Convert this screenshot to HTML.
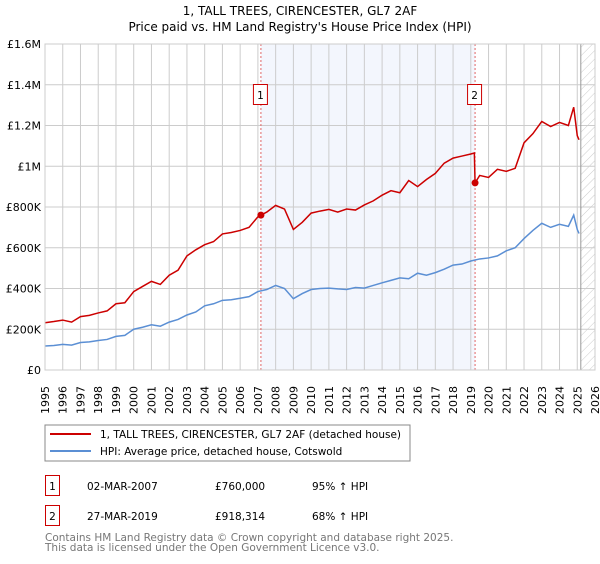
<!DOCTYPE html>
<html><head><meta charset="utf-8"><style>
body{margin:0;background:#fff;font-family:"DejaVu Sans","Liberation Sans",sans-serif;}
svg text{font-family:"DejaVu Sans","Liberation Sans",sans-serif;}
</style></head><body>
<svg id="chart" width="600" height="560" xmlns="http://www.w3.org/2000/svg">
<defs><pattern id="hatch" width="6" height="6" patternUnits="userSpaceOnUse" patternTransform="rotate(45)"><line x1="0" y1="0" x2="0" y2="6" stroke="#ccc" stroke-width="1"/></pattern></defs>
<text x="300" y="15" text-anchor="middle" font-size="12">1, TALL TREES, CIRENCESTER, GL7 2AF</text>
<text x="300" y="31" text-anchor="middle" font-size="12">Price paid vs. HM Land Registry's House Price Index (HPI)</text>
<g id="plot"></g>
<rect x="45" y="425" width="365" height="36" fill="#fff" stroke="#888"/>
<line x1="50" y1="434" x2="91" y2="434" stroke="#cc0000" stroke-width="2"/>
<text x="100" y="438" font-size="10.5">1, TALL TREES, CIRENCESTER, GL7 2AF (detached house)</text>
<line x1="50" y1="451" x2="91" y2="451" stroke="#5b8fd4" stroke-width="2"/>
<text x="100" y="455" font-size="10.5">HPI: Average price, detached house, Cotswold</text>
<g>
<rect x="45.5" y="475.5" width="14" height="20" fill="#fff" stroke="#cc0000"/>
<text x="52.5" y="490" text-anchor="middle" font-size="10.5">1</text>
<text x="87" y="490" font-size="10.5">02-MAR-2007</text>
<text x="215" y="490" font-size="10.5">£760,000</text>
<text x="312" y="490" font-size="10.5">95% ↑ HPI</text></g>
<g>
<rect x="45.5" y="505.5" width="14" height="20" fill="#fff" stroke="#cc0000"/>
<text x="52.5" y="520" text-anchor="middle" font-size="10.5">2</text>
<text x="87" y="520" font-size="10.5">27-MAR-2019</text>
<text x="215" y="520" font-size="10.5">£918,314</text>
<text x="312" y="520" font-size="10.5">68% ↑ HPI</text></g>
<text x="45" y="541" font-size="10.5" fill="#777">Contains HM Land Registry data © Crown copyright and database right 2025.</text>
<text x="45" y="551" font-size="10.5" fill="#777">This data is licensed under the Open Government Licence v3.0.</text>
</svg>
<script>
const yTicks=[0,200000,400000,600000,800000,1000000,1200000,1400000,1600000];
const yTickLabels=["£0","£200K","£400K","£600K","£800K","£1M","£1.2M","£1.4M","£1.6M"];
const xYears=[1995,1996,1997,1998,1999,2000,2001,2002,2003,2004,2005,2006,2007,2008,2009,2010,2011,2012,2013,2014,2015,2016,2017,2018,2019,2020,2021,2022,2023,2024,2025,2026];
const hpiDates=[1995,1995.5,1996,1996.5,1997,1997.5,1998,1998.5,1999,1999.5,2000,2000.5,2001,2001.5,2002,2002.5,2003,2003.5,2004,2004.5,2005,2005.5,2006,2006.5,2007,2007.5,2008,2008.5,2009,2009.5,2010,2010.5,2011,2011.5,2012,2012.5,2013,2013.5,2014,2014.5,2015,2015.5,2016,2016.5,2017,2017.5,2018,2018.5,2019,2019.5,2020,2020.5,2021,2021.5,2022,2022.5,2023,2023.5,2024,2024.5,2024.8,2025,2025.1];
const hpiValues=[118000,120000,126000,122000,135000,138000,145000,150000,165000,170000,200000,210000,222000,215000,235000,248000,270000,285000,315000,325000,342000,345000,352000,360000,385000,395000,415000,400000,350000,375000,395000,400000,402000,398000,395000,405000,402000,415000,428000,440000,452000,448000,475000,465000,478000,495000,515000,520000,535000,545000,550000,560000,585000,600000,645000,685000,720000,700000,715000,705000,760000,690000,670000];
const priceDates=[1995,1995.5,1996,1996.5,1997,1997.5,1998,1998.5,1999,1999.5,2000,2000.5,2001,2001.5,2002,2002.5,2003,2003.5,2004,2004.5,2005,2005.5,2006,2006.5,2007,2007.17,2007.5,2008,2008.5,2009,2009.5,2010,2010.5,2011,2011.5,2012,2012.5,2013,2013.5,2014,2014.5,2015,2015.5,2016,2016.5,2017,2017.5,2018,2018.5,2019,2019.2,2019.24,2019.5,2020,2020.5,2021,2021.5,2022,2022.5,2023,2023.5,2024,2024.5,2024.8,2025,2025.1];
const priceValues=[232000,238000,245000,235000,262000,268000,280000,290000,325000,330000,385000,410000,435000,420000,465000,490000,560000,590000,615000,630000,668000,675000,685000,700000,752000,760000,775000,808000,790000,690000,725000,770000,780000,788000,775000,790000,785000,810000,830000,858000,880000,870000,930000,900000,935000,965000,1015000,1040000,1050000,1060000,1065000,918314,955000,945000,985000,975000,990000,1115000,1160000,1220000,1195000,1215000,1200000,1290000,1150000,1130000];
const sales=[{d:2007.17,v:760000,n:"1"},{d:2019.24,v:918314,n:"2"}];
const X0=45,X1=595,Y0=370,Y1=44;
const xs=d=>X0+(d-1995)/(2026-1995)*(X1-X0);
const ys=v=>Y0-(v/1600000)*(Y0-Y1);
const g=document.getElementById('plot');const NS="http://www.w3.org/2000/svg";
function mk(t,a){const e=document.createElementNS(NS,t);for(const k in a)e.setAttribute(k,a[k]);g.appendChild(e);return e;}
let e;
e=mk('rect',{x:xs(2007.17),y:Y1,width:xs(2019.24)-xs(2007.17),height:Y0-Y1,fill:'#f3f6fd'});


e=mk('rect',{x:xs(2025.2),y:Y1,width:X1-xs(2025.2),height:Y0-Y1,fill:'url(#hatch)'});


xYears.forEach(y=>{e=mk('line',{x1:xs(y),x2:xs(y),y1:Y1,y2:Y0,stroke:'#ccc','stroke-width':1});


e=mk('text',{transform:`translate(${xs(y)+4},${Y0+44}) rotate(-90)`,'font-size':11});e.textContent=y;

});
yTicks.forEach((v,i)=>{e=mk('line',{x1:X0,x2:X1,y1:ys(v),y2:ys(v),stroke:'#ccc','stroke-width':1});


e=mk('text',{x:X0-4,y:ys(v)+4,'text-anchor':'end','font-size':11});e.textContent=yTickLabels[i];

});
e=mk('line',{x1:xs(2025.2),x2:xs(2025.2),y1:Y1,y2:Y0,stroke:'#999','stroke-width':1});


sales.forEach(s=>{e=mk('line',{x1:xs(s.d),x2:xs(s.d),y1:Y1,y2:Y0,stroke:'#e06666','stroke-dasharray':'2,2','stroke-width':1});

});
e=mk('polyline',{points:hpiDates.map((d,i)=>xs(d)+','+ys(hpiValues[i])).join(' '),fill:'none',stroke:'#5b8fd4','stroke-width':1.5});


e=mk('polyline',{points:priceDates.map((d,i)=>xs(d)+','+ys(priceValues[i])).join(' '),fill:'none',stroke:'#cc0000','stroke-width':1.5});


sales.forEach(s=>{e=mk('circle',{cx:xs(s.d),cy:ys(s.v),r:3.5,fill:'#cc0000'});


e=mk('rect',{x:xs(s.d)-7.5,y:84.5,width:14,height:20,fill:'#fff',stroke:'#cc0000'});


e=mk('text',{x:xs(s.d)-0.5,y:99,'text-anchor':'middle','font-size':10.5});e.textContent=s.n;

});
e=mk('rect',{x:X0,y:Y1,width:X1-X0,height:Y0-Y1,fill:'none',stroke:'#ccc'});


</script>
</body></html>
